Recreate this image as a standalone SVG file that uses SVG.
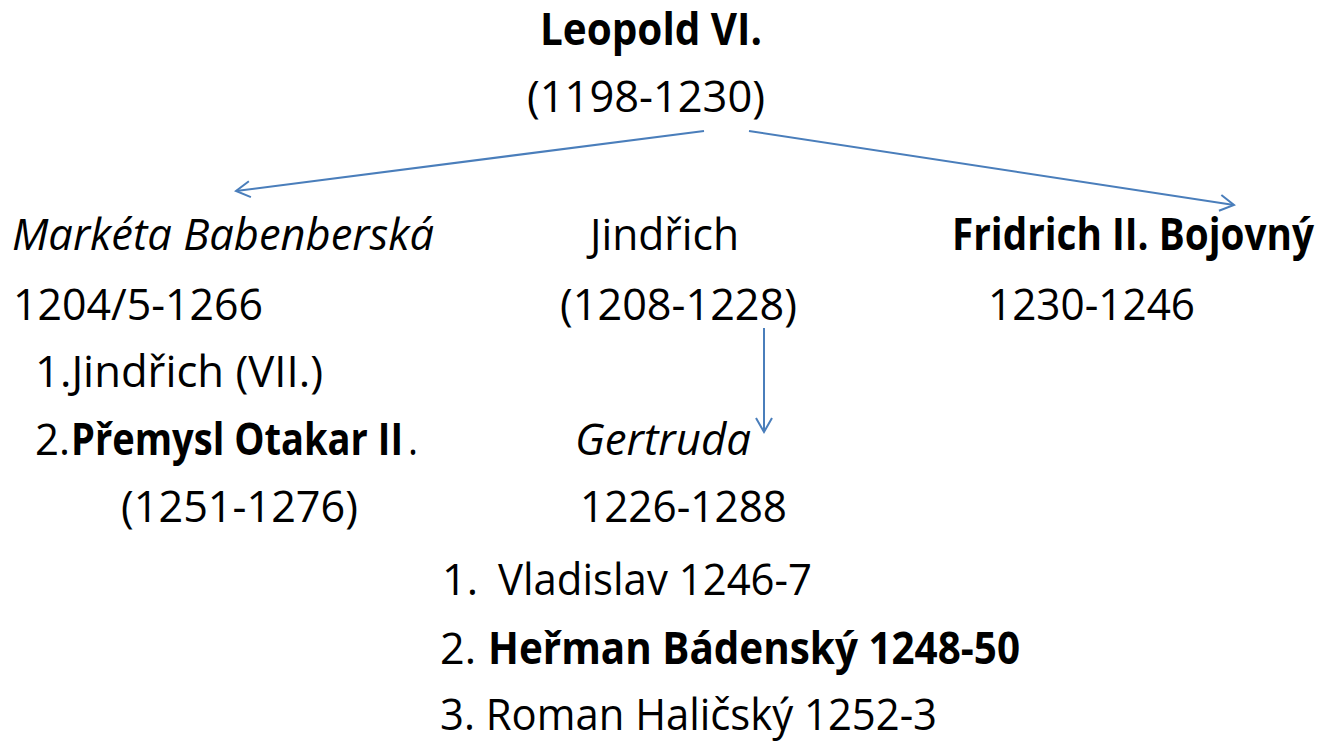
<svg xmlns="http://www.w3.org/2000/svg" width="1326" height="742" viewBox="0 0 1326 742">
<style>
text{font-family:"Open Sans","Noto Sans","Liberation Sans",sans-serif;font-size:44px;fill:#000}
.b{font-weight:bold}
.i{font-style:italic}
.c{stroke:#4A7EBB;stroke-width:2;fill:none}
</style>
<defs>
<marker id="ah" markerUnits="userSpaceOnUse" markerWidth="20" markerHeight="20" refX="16" refY="9" orient="auto">
<path d="M2,1 L16,9 L2,17" fill="none" stroke="#4A7EBB" stroke-width="2"/>
</marker>
</defs>
<rect width="1326" height="742" fill="#fff"/>
<g id="connectors">
<line class="c" x1="704" y1="131" x2="236" y2="191" marker-end="url(#ah)"/>
<line class="c" x1="749" y1="131" x2="1234" y2="205" marker-end="url(#ah)"/>
<line class="c" x1="764" y1="328" x2="764" y2="432" marker-end="url(#ah)"/>
</g>
<g id="leopold">
<text class="b" x="540" y="45" textLength="222" lengthAdjust="spacingAndGlyphs">Leopold VI.</text>
<text x="527" y="112" textLength="238" lengthAdjust="spacingAndGlyphs">(1198-1230)</text>
</g>
<g id="marketa">
<text class="i" x="12" y="250" textLength="422" lengthAdjust="spacingAndGlyphs">Markéta Babenberská</text>
<text x="13" y="320" textLength="250" lengthAdjust="spacingAndGlyphs">1204/5-1266</text>
<text x="35" y="387" textLength="288" lengthAdjust="spacingAndGlyphs">1.Jindřich (VII.)</text>
<text y="455"><tspan x="35" textLength="35" lengthAdjust="spacingAndGlyphs">2.</tspan><tspan class="b" x="71" textLength="332" lengthAdjust="spacingAndGlyphs">Přemysl Otakar II</tspan><tspan x="408" textLength="10" lengthAdjust="spacingAndGlyphs">.</tspan></text>
<text x="121" y="522" textLength="237" lengthAdjust="spacingAndGlyphs">(1251-1276)</text>
</g>
<g id="jindrich">
<text x="590" y="250" textLength="149" lengthAdjust="spacingAndGlyphs">Jindřich</text>
<text x="560" y="320" textLength="237" lengthAdjust="spacingAndGlyphs">(1208-1228)</text>
</g>
<g id="fridrich">
<text class="b" x="952" y="250" textLength="362" lengthAdjust="spacingAndGlyphs">Fridrich II. Bojovný</text>
<text x="988" y="320" textLength="207" lengthAdjust="spacingAndGlyphs">1230-1246</text>
</g>
<g id="gertruda">
<text class="i" x="575" y="455" textLength="176" lengthAdjust="spacingAndGlyphs">Gertruda</text>
<text x="580" y="522" textLength="207" lengthAdjust="spacingAndGlyphs">1226-1288</text>
<text y="595"><tspan x="442" textLength="36" lengthAdjust="spacingAndGlyphs">1.</tspan><tspan x="498" textLength="314" lengthAdjust="spacingAndGlyphs">Vladislav 1246-7</tspan></text>
<text y="664"><tspan x="440" textLength="36" lengthAdjust="spacingAndGlyphs">2.</tspan><tspan class="b" x="488" textLength="532" lengthAdjust="spacingAndGlyphs">Heřman Bádenský 1248-50</tspan></text>
<text x="440" y="730" textLength="497" lengthAdjust="spacingAndGlyphs">3. Roman Haličský 1252-3</text>
</g>
</svg>
